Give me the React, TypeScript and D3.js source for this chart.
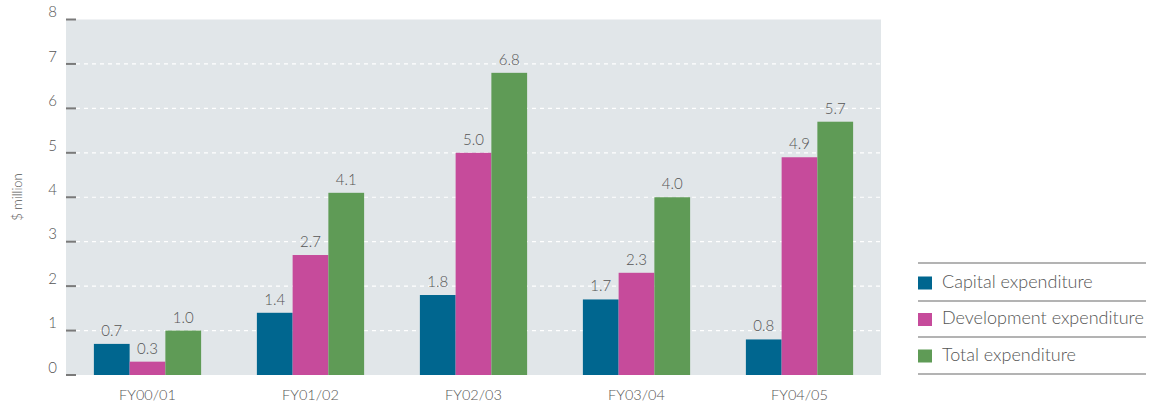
import React from "react";
import * as d3 from "d3";

const categories = ["FY00/01", "FY01/02", "FY02/03", "FY03/04", "FY04/05"];
const seriesNames = ["Capital expenditure", "Development expenditure", "Total expenditure"];
const capital = [0.7, 1.4, 1.8, 1.7, 0.8];
const development = [0.3, 2.7, 5.0, 2.3, 4.9];
const total = [1.0, 4.1, 6.8, 4.0, 5.7];
const yTicks = [0, 1, 2, 3, 4, 5, 6, 7, 8];
const colors = ["#00668f", "#c64b9b", "#5f9b56"];

const W = 1149;
const H = 407;
const left = 66;
const right = 881;
const top = 19.5;
const bottom = 375;
const FONT = "Lato, 'Liberation Sans', sans-serif";
const TXT = "#555555";

export default function App() {
  const series = [capital, development, total];
  const x = d3.scaleBand<string>().domain(categories).range([left, right]).paddingInner(0).paddingOuter(0);
  const inner = d3
    .scaleBand<number>()
    .domain([0, 1, 2])
    .range([0, x.bandwidth()])
    .paddingInner(0)
    .paddingOuter(0.78);
  const y = d3.scaleLinear().domain([0, 8]).range([bottom, top]);

  return (
    <svg width={W} height={H} style={{ position: "absolute", left: 0, top: 0 }} fontFamily={FONT} fontWeight={300}>
      <rect x={left} y={top} width={right - left} height={bottom - top} fill="#e1e6e9" />
      {yTicks.filter((t) => t > 0 && t < 8).map((t) => (
        <line key={"g" + t} x1={left + 10} x2={right} y1={y(t)} y2={y(t)} stroke="#ffffff" strokeWidth={1.2} strokeDasharray="4,4" />
      ))}
      {yTicks.map((t) => (
        <g key={"t" + t}>
          <line x1={left} x2={left + 10} y1={y(t)} y2={y(t)} stroke="#7a7a7a" strokeWidth={2} />
          <text x={57} y={y(t) - 6} textAnchor="end" dominantBaseline="middle" fontSize={15} fill={TXT}>
            {t}
          </text>
        </g>
      ))}
      <text transform={`translate(22,197) rotate(-90)`} textAnchor="middle" fontSize={13} fill={TXT}>
        $ million
      </text>
      {categories.map((c, i) => (
        <g key={c}>
          {series.map((s, j) => {
            const bx = (x(c) as number) + (inner(j) as number);
            return (
              <g key={j}>
                <rect x={bx} y={y(s[i])} width={inner.bandwidth()} height={bottom - y(s[i])} fill={colors[j]} />
                <text x={bx + inner.bandwidth() / 2} y={y(s[i]) - 8} textAnchor="middle" fontSize={15} fill={TXT}>
                  {s[i].toFixed(1)}
                </text>
              </g>
            );
          })}
          <text x={(x(c) as number) + x.bandwidth() / 2} y={400} textAnchor="middle" fontSize={14.5} fill={TXT}>
            {c}
          </text>
        </g>
      ))}
      {[263, 301, 337, 374].map((ly) => (
        <line key={ly} x1={918} x2={1146} y1={ly} y2={ly} stroke="#9a9a9a" strokeWidth={1.5} />
      ))}
      {seriesNames.map((n, j) => {
        const cy = 283.5 + j * 36.5;
        return (
          <g key={n}>
            <rect x={918} y={cy - 7} width={14} height={13} fill={colors[j]} />
            <text x={942} y={cy} dominantBaseline="middle" fontSize={18} fill={TXT}>
              {n}
            </text>
          </g>
        );
      })}
    </svg>
  );
}
